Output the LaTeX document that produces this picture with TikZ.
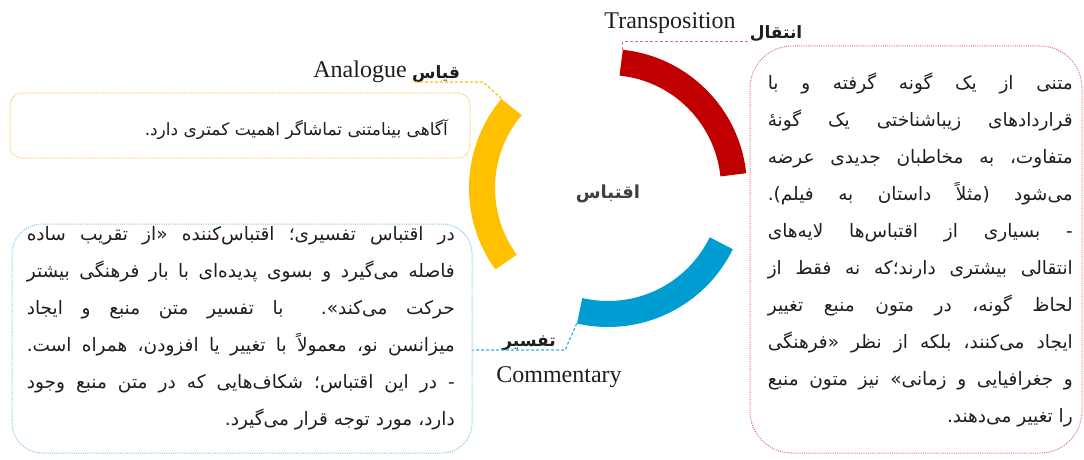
\documentclass[tikz,border=0pt]{standalone}
\usepackage{fontspec}
\setmainfont{Liberation Serif}
\newfontfamily\fa[Script=Arabic]{DejaVu Sans}
\TeXXeTstate=1
\usetikzlibrary{calc}
\definecolor{ared}{RGB}{192,0,0}
\definecolor{ayel}{RGB}{255,192,0}
\definecolor{ablu}{RGB}{0,157,210}
\definecolor{bred}{RGB}{228,110,110}
\definecolor{byel}{RGB}{250,200,70}
\definecolor{bblu}{RGB}{120,195,232}
\definecolor{ink}{RGB}{30,30,30}
\begin{document}
\begin{tikzpicture}[x=1pt,y=1pt,
  arcseg/.style={line width=26pt},
  boxline/.style={line width=1pt, dash pattern=on 1pt off 1.2pt},
  leader/.style={line width=1.2pt, dash pattern=on 3pt off 2pt},
  body/.style={inner sep=0pt, anchor=base east, font=\fa\fontsize{18.5}{20}\selectfont, text=ink},
  ybody/.style={inner sep=0pt, anchor=base east, font=\fa\fontsize{17}{20}\selectfont, text=ink},
  falabel/.style={inner sep=0pt, font=\fa\bfseries\fontsize{17}{20}\selectfont, text=ink},
  enlabel/.style={inner sep=0pt, font=\fontsize{24}{27}\selectfont, text=ink}]
\useasboundingbox (0,0) rectangle (1084,459);
% ring
\coordinate (C) at (608,271);
\draw[arcseg, ared] ($(C)+(84:126)$) arc[start angle=84, end angle=6, radius=126];
\draw[arcseg, ayel] ($(C)+(140:126)$) arc[start angle=140, end angle=216, radius=126];
\draw[arcseg, ablu] ($(C)+(-103:126)$) arc[start angle=-103, end angle=-26, radius=126];
\coordinate (rE) at ($(C)+(84:139)$);
\coordinate (yE) at ($(C)+(140:139)$);
\coordinate (bE) at ($(C)+(-103:139)$);
\node[inner sep=0pt, font=\fa\bfseries\fontsize{18}{22}\selectfont, text=ink!85] (core) at (608,265) {\beginR اقتباس\endR};
% boxes
\node[draw=byel, boxline, rounded corners=12pt, minimum width=460pt, minimum height=65pt] (ybox) at (240,333.5) {};
\node[draw=bred, boxline, rounded corners=42pt, minimum width=332pt, minimum height=407pt] (rbox) at (916,209.5) {};
\node[draw=bblu, boxline, rounded corners=30pt, minimum width=460pt, minimum height=229pt] (bbox) at (242,120.5) {};
% labels
\node[enlabel] (transEN) at (670,436) {Transposition};
\node[falabel] (transFA) at (776,425) {\beginR انتقال\endR};
\node[enlabel] (anaEN) at (360,387) {Analogue};
\node[falabel] (anaFA) at (436,385) {\beginR قیاس\endR};
\node[falabel] (comFA) at (529,116) {\beginR تفسیر\endR};
\node[enlabel] (comEN) at (559,82) {Commentary};
% leaders
\draw[leader, bred] (rE) -- ++(0,8) coordinate (rK) -- (transFA.west |- rK);
\draw[leader, ayel] (yE) -- ++(-18.5,16.7) coordinate (yK) -- (anaFA.west |- yK);
\draw[leader, ablu!80] (bE) -- ++(-11.7,-26.6) coordinate (bK) -- (bbox.east |- bK);
% yellow box text
\node[ybody] (y1) at (448,324) {\beginR آگاهی بینامتنی تماشاگر اهمیت کمتری دارد.\endR};
% red box text
\node[body] (r1) at (1073,370) {\hbox to 305pt{\beginR متنی از یک گونه گرفته و با\endR}};
\node[body] (r2) at (1073,333) {\hbox to 305pt{\beginR قراردادهای زیباشناختی یک گونهٔ\endR}};
\node[body] (r3) at (1073,296) {\hbox to 305pt{\beginR متفاوت، به مخاطبان جدیدی عرضه\endR}};
\node[body] (r4) at (1073,259) {\hbox to 305pt{\beginR می‌شود (مثلاً داستان به فیلم).\endR}};
\node[body] (r5) at (1073,222) {\hbox to 305pt{\beginR - بسیاری از اقتباس‌ها لایه‌های\endR}};
\node[body] (r6) at (1073,185) {\hbox to 305pt{\beginR انتقالی بیشتری دارند؛که نه فقط از\endR}};
\node[body] (r7) at (1073,148) {\hbox to 305pt{\beginR لحاظ گونه، در متون منبع تغییر\endR}};
\node[body] (r8) at (1073,111) {\hbox to 305pt{\beginR ایجاد می‌کنند، بلکه از نظر «فرهنگی\endR}};
\node[body] (r9) at (1073,74) {\hbox to 305pt{\beginR و جغرافیایی و زمانی» نیز متون منبع\endR}};
\node[body] (r10) at (1073,37) {\beginR را تغییر می‌دهند.\endR};
% blue box text
\node[body] (b1) at (455,219) {\hbox to 428pt{\beginR در اقتباس تفسیری؛ اقتباس‌کننده «از تقریب ساده\endR}};
\node[body] (b2) at (455,182) {\hbox to 428pt{\beginR فاصله می‌گیرد و بسوی پدیده‌ای با بار فرهنگی بیشتر\endR}};
\node[body] (b3) at (455,145) {\hbox to 428pt{\beginR حرکت می‌کند».\ \ با تفسیر متن منبع و ایجاد\endR}};
\node[body] (b4) at (455,108) {\hbox to 428pt{\beginR میزانسن نو، معمولاً با تغییر یا افزودن، همراه است.\endR}};
\node[body] (b5) at (455,71) {\hbox to 428pt{\beginR - در این اقتباس؛ شکاف‌هایی که در متن منبع وجود\endR}};
\node[body] (b6) at (455,34) {\beginR دارد، مورد توجه قرار می‌گیرد.\endR};
\end{tikzpicture}
\end{document}
